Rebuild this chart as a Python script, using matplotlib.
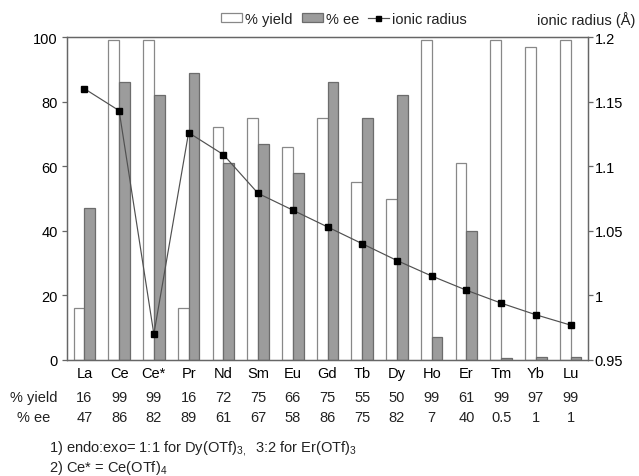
import matplotlib
matplotlib.use("Agg")
import matplotlib.pyplot as plt
import matplotlib.patches as mpatches
import matplotlib.lines as mlines
import numpy as np

# data
elements = ['La', 'Ce', 'Ce*', 'Pr', 'Nd', 'Sm', 'Eu', 'Gd', 'Tb', 'Dy', 'Ho', 'Er', 'Tm', 'Yb', 'Lu']
yield_pct = [16, 99, 99, 16, 72, 75, 66, 75, 55, 50, 99, 61, 99, 97, 99]
ee_pct = [47, 86, 82, 89, 61, 67, 58, 86, 75, 82, 7, 40, 0.5, 1, 1]
ee_labels = ['47', '86', '82', '89', '61', '67', '58', '86', '75', '82', '7', '40', '0.5', '1', '1']
radius = [1.160, 1.143, 0.970, 1.126, 1.109, 1.079, 1.066, 1.053, 1.040, 1.027, 1.015, 1.004, 0.994, 0.985, 0.977]

plt.rcParams['font.family'] = ['Liberation Sans', 'DejaVu Sans']
plt.rcParams['font.size'] = 10.5
plt.rcParams['mathtext.fontset'] = 'custom'
plt.rcParams['mathtext.rm'] = 'Liberation Sans'
plt.rcParams['mathtext.it'] = 'Liberation Sans:italic'
plt.rcParams['text.color'] = '#222222'

spine_col = '#666666'
fig = plt.figure(figsize=(6.39, 4.77), dpi=100)
ax = fig.add_axes([0.1049, 0.2432, 0.8153, 0.6771])
x = np.arange(len(elements))
w = 0.31

ax.bar(x - w / 2, yield_pct, w, color='white', edgecolor='#888888', linewidth=0.9)
ax.bar(x + w / 2, ee_pct, w, color='#9c9c9c', edgecolor='#6c6c6c', linewidth=0.9)
ax.set_xlim(-0.5, len(elements) - 0.5)
ax.set_ylim(0, 100)
ax.set_yticks([0, 20, 40, 60, 80, 100])
ax.set_xticks(x)
ax.set_xticklabels(elements)
ax.tick_params(axis='x', length=0, pad=4)
ax.tick_params(axis='y', length=3.6, width=0.9, pad=3, color=spine_col)

ax2 = ax.twinx()
ax2.plot(x, radius, color='#505050', linewidth=0.85, marker='s', markersize=3.8,
         markerfacecolor='black', markeredgecolor='black')
ax2.set_ylim(0.95, 1.2)
ax2.set_yticks([0.95, 1.0, 1.05, 1.1, 1.15, 1.2])
ax2.set_yticklabels(['0.95', '1', '1.05', '1.1', '1.15', '1.2'])
ax2.tick_params(axis='y', length=3.6, width=0.9, pad=1, color=spine_col)

for a in (ax, ax2):
    for s in a.spines.values():
        s.set_color(spine_col)
        s.set_linewidth(0.9)

# table under the axis
tr = ax.get_xaxis_transform()
for i in range(len(elements)):
    ax.text(x[i], -0.1146, str(yield_pct[i]), transform=tr, ha='center', va='center')
    ax.text(x[i], -0.1765, ee_labels[i], transform=tr, ha='center', va='center')
fig.text(0.053, 1 - 398 / 477, '% yield', ha='center', va='center')
fig.text(0.053, 1 - 418 / 477, '% ee', ha='center', va='center')

fig.text(0.077, 1 - 449 / 477, '1) endo:exo= 1:1 for Dy(OTf)$_{3,}$  3:2 for Er(OTf)$_3$',
         ha='left', va='center')
fig.text(0.077, 1 - 468 / 477, '2) Ce* = Ce(OTf)$_4$', ha='left', va='center')

# legend on top
h1 = mpatches.Patch(facecolor='white', edgecolor='#888888', linewidth=0.9, label='% yield')
h2 = mpatches.Patch(facecolor='#9c9c9c', edgecolor='#6c6c6c', linewidth=0.9, label='% ee')
h3 = mlines.Line2D([], [], color='#505050', linewidth=0.85, marker='s', markersize=3.6,
                   markerfacecolor='black', markeredgecolor='black', label='ionic radius')
fig.legend(handles=[h1, h2, h3], loc='center', bbox_to_anchor=(0.538, 0.958), ncol=3,
           frameon=False, handlelength=1.45, handleheight=0.55, handletextpad=0.2,
           columnspacing=0.6, borderpad=0)
fig.text(0.995, 0.958, 'ionic radius (Å)', ha='right', va='center')

fig.savefig('out.png', dpi=100)
